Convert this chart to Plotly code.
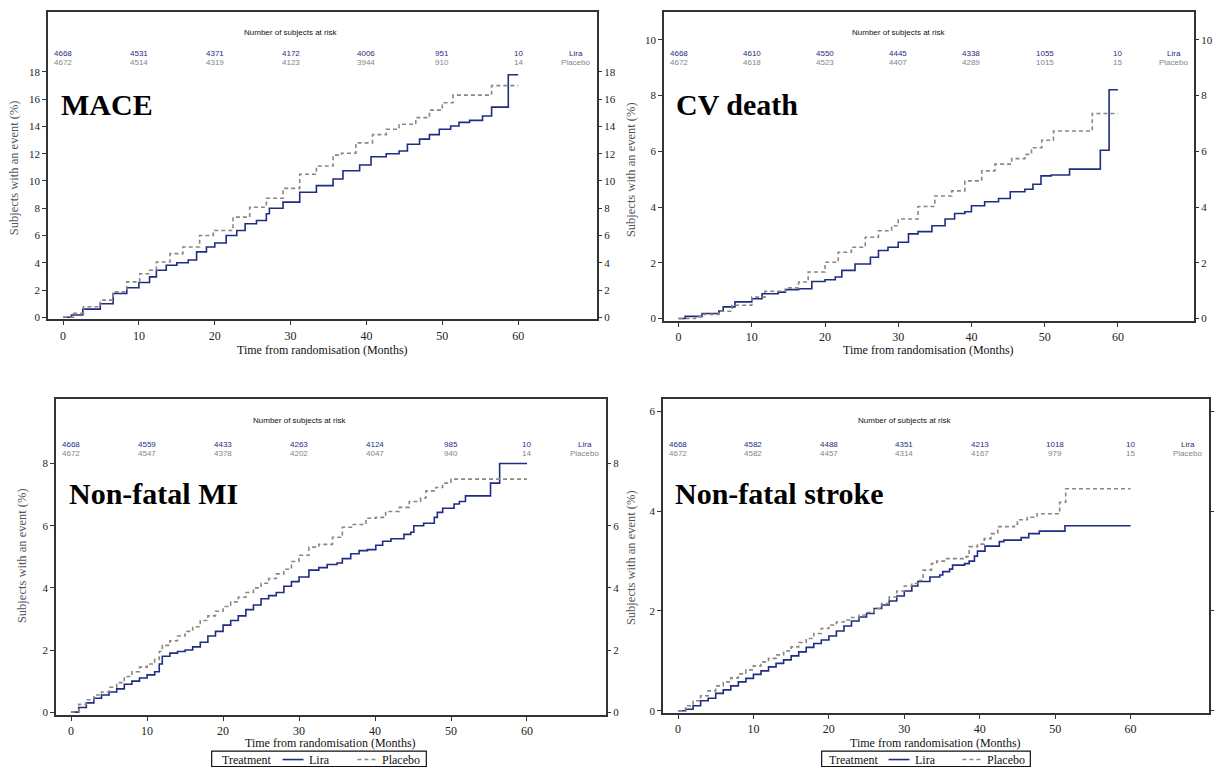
import plotly.graph_objects as go

# ---------------- data ----------------
mace_lira_t = [0, 1.1, 2.6, 4.9, 6.6, 8.4, 10, 11.4, 12.3, 13.6, 15, 16.5, 17.6, 18.9, 20, 21.5, 22.9, 24,
               25.5, 26.8, 27.2, 29, 31.2, 33.4, 35.6, 36.9, 39.1, 40.6, 42.6, 44.3, 45.4, 47, 48.3, 49.6,
               51.1, 52.2, 53.6, 55.3, 56.5, 58.7, 60]
mace_lira_v = [0, 0.17, 0.6, 1.0, 1.75, 2.17, 2.55, 2.97, 3.45, 3.82, 4.0, 4.2, 4.8, 5.16, 5.45, 6.0, 6.37, 6.86,
               7.1, 7.6, 8.0, 8.45, 9.17, 9.66, 10.15, 10.75, 11.17, 11.78, 12.0, 12.2, 12.7, 13.07, 13.4, 13.8,
               14.04, 14.3, 14.45, 14.77, 15.42, 17.8, 17.8]
mace_pla_t = [0, 1.4, 2.7, 4.9, 6.6, 8.4, 10.1, 11.4, 12.3, 14.1, 15.8, 18, 19.8, 22.4, 24.6, 26.8, 29, 31.2,
              33.4, 35.6, 36.7, 38.6, 40.8, 42.6, 44.3, 46.5, 48.3, 50, 51.4, 56.5, 60]
mace_pla_v = [0, 0.29, 0.78, 1.26, 1.87, 2.6, 3.2, 3.45, 4.06, 4.67, 5.16, 6.0, 6.37, 7.35, 8.08, 8.73, 9.46, 10.5,
              11.1, 11.9, 12.04, 12.8, 13.4, 13.8, 14.16, 14.65, 15.2, 15.74, 16.3, 17.0, 17.0]

cv_lira_t = [0, 0.9, 3.2, 5.5, 6.1, 7.7, 10, 11.4, 13.6, 14.6, 16.4, 18.2, 20, 21.4, 22.3, 24.1, 26.2, 27.3,
             28.6, 30, 31.4, 32.7, 34.6, 36.4, 37.7, 39.1, 40, 41.8, 43.7, 45.3, 47.3, 48.4, 49.5, 50.9, 53.4,
             57.6, 58.8, 60]
cv_lira_v = [0, 0.08, 0.18, 0.27, 0.42, 0.6, 0.71, 0.89, 0.95, 1.04, 1.07, 1.33, 1.39, 1.49, 1.73, 1.96, 2.2, 2.44,
             2.56, 2.74, 3.04, 3.12, 3.33, 3.57, 3.77, 3.83, 4.05, 4.19, 4.31, 4.55, 4.64, 4.82, 5.12, 5.15, 5.36,
             6.04, 8.21, 8.21]
cv_pla_t = [0, 2.3, 3.2, 5.5, 7.3, 10, 11.8, 14.6, 16.4, 17.7, 20, 21.8, 23.6, 25.5, 27.3, 29.1, 30, 32.7,
            35, 37.3, 39.1, 41.4, 43.2, 45.5, 47.3, 48.2, 49.6, 51.2, 56.5, 60]
cv_pla_v = [0, 0.06, 0.15, 0.26, 0.48, 0.77, 0.98, 1.1, 1.31, 1.67, 2.02, 2.38, 2.56, 2.92, 3.15, 3.33, 3.57, 4.02,
            4.4, 4.58, 4.94, 5.3, 5.54, 5.74, 5.89, 6.13, 6.4, 6.73, 7.36, 7.36]

mi_lira_t = [0, 1, 2, 3, 4, 5, 6, 7, 8, 9, 10, 11, 11.6, 12, 13, 14, 15, 16, 17, 18, 19, 20, 21, 22, 23, 24,
             25, 26, 27, 28, 29, 30, 31.3, 32.6, 33.7, 35, 35.7, 36.8, 37.9, 39, 40.1, 41, 42.1, 43.8, 44.7,
             45.1, 46.4, 47.8, 48.2, 48.9, 50.4, 51.1, 51.9, 55.2, 56.4, 60]
mi_lira_v = [0, 0.15, 0.3, 0.45, 0.55, 0.65, 0.75, 0.9, 1.0, 1.1, 1.2, 1.3, 1.55, 1.8, 1.9, 1.95, 2.0, 2.1, 2.25,
             2.45, 2.6, 2.8, 2.95, 3.1, 3.3, 3.45, 3.65, 3.75, 3.85, 4.05, 4.2, 4.35, 4.57, 4.65, 4.75, 4.8,
             4.94, 5.1, 5.2, 5.23, 5.37, 5.5, 5.58, 5.72, 5.79, 6.0, 6.08, 6.27, 6.43, 6.56, 6.7, 6.78, 6.96,
             7.37, 8.0, 8.0]
mi_pla_t = [0, 1, 2, 3, 4, 5, 6, 7, 8, 9, 10, 11, 11.6, 12, 13, 14, 15, 16, 17, 18, 19, 20, 21, 22, 23, 24,
            25, 26, 27, 28, 29, 30, 31.3, 32.6, 34.4, 35.7, 37, 38.8, 40.1, 41.4, 43.2, 44.5, 46, 46.7, 48,
            48.9, 50, 60]
mi_pla_v = [0, 0.25, 0.4, 0.55, 0.65, 0.8, 0.95, 1.15, 1.3, 1.45, 1.55, 1.7, 1.95, 2.15, 2.3, 2.45, 2.6, 2.75,
            2.95, 3.1, 3.25, 3.4, 3.55, 3.7, 3.85, 4.0, 4.15, 4.3, 4.45, 4.6, 4.85, 5.05, 5.31, 5.4, 5.63, 5.95,
            6.04, 6.24, 6.27, 6.46, 6.59, 6.78, 6.89, 7.12, 7.23, 7.37, 7.5, 7.5]

st_lira_t = [0, 1, 2, 3, 4, 5, 6, 7, 8, 9, 10, 11, 12, 13, 14, 15, 16, 17, 18, 19, 20, 21, 22, 23, 24, 25, 26,
             27, 28, 29, 30, 31, 31.8, 33.4, 34.7, 35.1, 36, 36.4, 38, 38.6, 39.3, 39.7, 40.7, 42.6, 43.2, 45.5,
             46.5, 47.9, 51.3, 60]
st_lira_v = [0, 0.03, 0.1, 0.2, 0.25, 0.35, 0.42, 0.5, 0.58, 0.65, 0.73, 0.8, 0.88, 0.95, 1.02, 1.1, 1.18, 1.27,
             1.35, 1.42, 1.5, 1.6, 1.7, 1.8, 1.88, 1.95, 2.05, 2.12, 2.2, 2.3, 2.4, 2.5, 2.59, 2.68, 2.72, 2.79,
             2.84, 2.92, 2.95, 3.0, 3.1, 3.2, 3.3, 3.39, 3.42, 3.47, 3.55, 3.6, 3.71, 3.71]
st_pla_t = [0, 1, 2, 3, 4, 5, 6, 7, 8, 9, 10, 11, 12, 13, 14, 15, 16, 17, 18, 19, 20, 21, 22, 23, 24, 25, 26,
            27, 28, 29, 30, 31, 31.8, 32.5, 33.6, 34.3, 35.6, 38.2, 38.6, 39.7, 40.6, 41.5, 42.4, 44.6, 45,
            46.3, 47.6, 50.6, 51.4, 60]
st_pla_v = [0, 0.1, 0.2, 0.3, 0.4, 0.5, 0.58, 0.66, 0.74, 0.82, 0.9, 0.98, 1.05, 1.12, 1.2, 1.28, 1.37, 1.45,
            1.55, 1.65, 1.72, 1.78, 1.82, 1.87, 1.92, 1.97, 2.05, 2.15, 2.28, 2.4, 2.5, 2.55, 2.61, 2.82, 2.95,
            3.0, 3.05, 3.09, 3.29, 3.34, 3.45, 3.55, 3.69, 3.74, 3.83, 3.88, 3.95, 4.18, 4.45, 4.45]

risk_times = [0, 10, 20, 30, 40, 50, 60]
mace_risk_lira = [4668, 4531, 4371, 4172, 4006, 951, 10]
mace_risk_pla = [4672, 4514, 4319, 4123, 3944, 910, 14]
cv_risk_lira = [4668, 4610, 4550, 4445, 4338, 1055, 10]
cv_risk_pla = [4672, 4618, 4523, 4407, 4289, 1015, 15]
mi_risk_lira = [4668, 4559, 4433, 4263, 4124, 985, 10]
mi_risk_pla = [4672, 4547, 4378, 4202, 4047, 940, 14]
st_risk_lira = [4668, 4582, 4488, 4351, 4213, 1018, 10]
st_risk_pla = [4672, 4582, 4457, 4314, 4167, 979, 15]

panel_titles = ["MACE", "CV death", "Non-fatal MI", "Non-fatal stroke"]
x_ticks = [0, 10, 20, 30, 40, 50, 60]
series_names = ["Lira", "Placebo"]
legend_title = "Treatment"

# ---------------- style ----------------
OFF = 8                      # page body margin of the browser
W, H = 1222 - OFF, 771 - OFF
LIRA_C = "#1f2c82"
PLA_C = "#8c867f"
SERIF = "Liberation Serif"
SANS = "Liberation Sans"
AX_C = "#333333"


def px(xp):
    return (xp - OFF) / W


def py(yp):
    return 1 - (yp - OFF) / H


# pixel boxes in reference picture (left, right, top, bottom)
boxes = [(48, 598, 12, 321), (665, 1196, 12, 323), (56, 607, 401, 719), (664, 1211, 401, 717)]
yranges = [(-0.15, 22.4), (-0.1, 11.0), (-0.1, 10.08), (-0.05, 6.25)]
ymaxtick = [18, 10, 8, 6]
xrange_ = (-2, 70.4)

panels = [
    (mace_lira_t, mace_lira_v, mace_pla_t, mace_pla_v, mace_risk_lira, mace_risk_pla),
    (cv_lira_t, cv_lira_v, cv_pla_t, cv_pla_v, cv_risk_lira, cv_risk_pla),
    (mi_lira_t, mi_lira_v, mi_pla_t, mi_pla_v, mi_risk_lira, mi_risk_pla),
    (st_lira_t, st_lira_v, st_pla_t, st_pla_v, st_risk_lira, st_risk_pla),
]

fig = go.Figure()
layout = dict(width=W, height=H, autosize=False, margin=dict(l=0, r=0, t=0, b=0),
              paper_bgcolor="white", plot_bgcolor="white", showlegend=False)
annotations = []
shapes = []

for i, (lt, lv, pt, pv, rl, rp) in enumerate(panels):
    n = i + 1
    xs = "" if n == 1 else str(n)
    xa, ya = "x" + xs, "y" + xs
    yr_name = "y" + str(n + 4)
    L, R, T, B = boxes[i]
    xdom = [px(L), px(R)]
    ydom = [py(B), py(T)]
    yt = list(range(0, ymaxtick[i] + 1, 2))

    common = dict(mode="lines", line_shape="hv", hoverinfo="skip", showlegend=False)
    fig.add_trace(go.Scatter(x=lt, y=lv, xaxis=xa, yaxis=ya, name=series_names[0],
                             line=dict(color=LIRA_C, width=1.6), **common))
    fig.add_trace(go.Scatter(x=pt, y=pv, xaxis=xa, yaxis=ya, name=series_names[1],
                             line=dict(color=PLA_C, width=1.6, dash="4px,3px"), **common))
    # invisible trace carrying the right-hand tick axis
    fig.add_trace(go.Scatter(x=lt, y=lv, xaxis=xa, yaxis=yr_name, mode="lines", opacity=0,
                             showlegend=False, hoverinfo="skip", line=dict(width=0)))

    tickfont = dict(family=SERIF, size=11, color="#222222")
    layout["xaxis" + xs] = dict(domain=xdom, anchor=ya, range=list(xrange_), tickvals=x_ticks,
                                showline=True, linecolor=AX_C, linewidth=1.5, mirror=True,
                                ticks="outside", ticklen=4, tickcolor=AX_C, showgrid=False,
                                zeroline=False, tickfont=dict(family=SERIF, size=12, color="#222222"))
    layout["yaxis" + xs] = dict(domain=ydom, anchor=xa, range=list(yranges[i]), tickvals=yt,
                                showline=True, linecolor=AX_C, linewidth=1.5, mirror=True,
                                ticks="outside", ticklen=4, tickcolor=AX_C, showgrid=False,
                                zeroline=False, tickfont=tickfont)
    layout["yaxis" + str(n + 4)] = dict(overlaying=ya, anchor=xa, side="right", range=list(yranges[i]),
                                        tickvals=yt, showline=False, ticks="outside", ticklen=4,
                                        tickcolor=AX_C, showgrid=False, zeroline=False, tickfont=tickfont)

    top_row = i < 2
    yt_title = 0.955 if top_row else 0.953
    yl = 0.887 if top_row else 0.875
    yp = 0.858 if top_row else 0.847
    annotations.append(dict(text="Number of subjects at risk", x=30, y=yt_title, xref=xa, yref=ya + " domain",
                            showarrow=False, font=dict(family=SANS, size=8, color="#111111")))
    for t, a, b in zip(risk_times, rl, rp):
        annotations.append(dict(text=str(a), x=t, y=yl, xref=xa, yref=ya + " domain", showarrow=False,
                                font=dict(family=SANS, size=8, color=LIRA_C)))
        annotations.append(dict(text=str(b), x=t, y=yp, xref=xa, yref=ya + " domain", showarrow=False,
                                font=dict(family=SANS, size=8, color="#858585")))
    annotations.append(dict(text=series_names[0], x=67.6, y=yl, xref=xa, yref=ya + " domain", showarrow=False,
                            font=dict(family=SANS, size=8, color=LIRA_C)))
    annotations.append(dict(text=series_names[1], x=67.6, y=yp, xref=xa, yref=ya + " domain", showarrow=False,
                            font=dict(family=SANS, size=8, color="#858585")))
    # panel title
    annotations.append(dict(text="<b>%s</b>" % panel_titles[i], x=-0.6, y=0.70, xref=xa, yref=ya + " domain",
                            xanchor="left", yanchor="middle", showarrow=False,
                            font=dict(family=SERIF, size=30, color="black")))
    # axis titles
    xt_y = 352 if top_row else 747
    annotations.append(dict(text="Time from randomisation (Months)", x=px((L + R) / 2), y=py(xt_y),
                            xref="paper", yref="paper", showarrow=False, yanchor="middle", xanchor="center",
                            font=dict(family=SERIF, size=12, color="#111111")))
    yx = [14, 632, 22, 632][i]
    yy = [168, 170, 558, 560][i]
    annotations.append(dict(text="Subjects with an event (%)", x=px(yx), y=py(yy), xref="paper",
                            yref="paper", showarrow=False, textangle=-90, xanchor="center", yanchor="middle",
                            font=dict(family=SERIF, size=12.5, color="#4e5660")))

# ---- legend boxes drawn under the bottom panels ----
# (box_left, box_right, treat_x, line1_x0, line1_x1, lira_x, line2_x0, line2_x1, placebo_x)
legend_boxes = [(212, 427, 220, 283, 304, 307, 358, 378, 381),
                (823, 1032, 828, 890, 911, 914, 964, 985, 987)]
leg_font = dict(family=SERIF, size=12, color="#111111")
for (bl, br, tx, l1a, l1b, lx, l2a, l2b, plx) in legend_boxes:
    shapes.append(dict(type="rect", xref="paper", yref="paper", x0=px(bl), x1=px(br), y0=py(770.5), y1=py(755),
                       line=dict(color="#111111", width=1.2), fillcolor="white", layer="above"))
    yc = py(763.5)
    annotations.append(dict(text=legend_title, x=px(tx), y=yc, xref="paper", yref="paper", xanchor="left",
                            yanchor="middle", showarrow=False, font=leg_font))
    shapes.append(dict(type="line", xref="paper", yref="paper", x0=px(l1a), x1=px(l1b), y0=yc, y1=yc,
                       line=dict(color=LIRA_C, width=1.6)))
    annotations.append(dict(text=series_names[0], x=px(lx), y=yc, xref="paper", yref="paper", xanchor="left",
                            yanchor="middle", showarrow=False, font=leg_font))
    shapes.append(dict(type="line", xref="paper", yref="paper", x0=px(l2a), x1=px(l2b), y0=yc, y1=yc,
                       line=dict(color=PLA_C, width=1.6, dash="4px,3px")))
    annotations.append(dict(text=series_names[1], x=px(plx), y=yc, xref="paper", yref="paper", xanchor="left",
                            yanchor="middle", showarrow=False, font=leg_font))

layout["annotations"] = annotations
layout["shapes"] = shapes
fig.update_layout(**layout)
fig.write_html("out.html")
